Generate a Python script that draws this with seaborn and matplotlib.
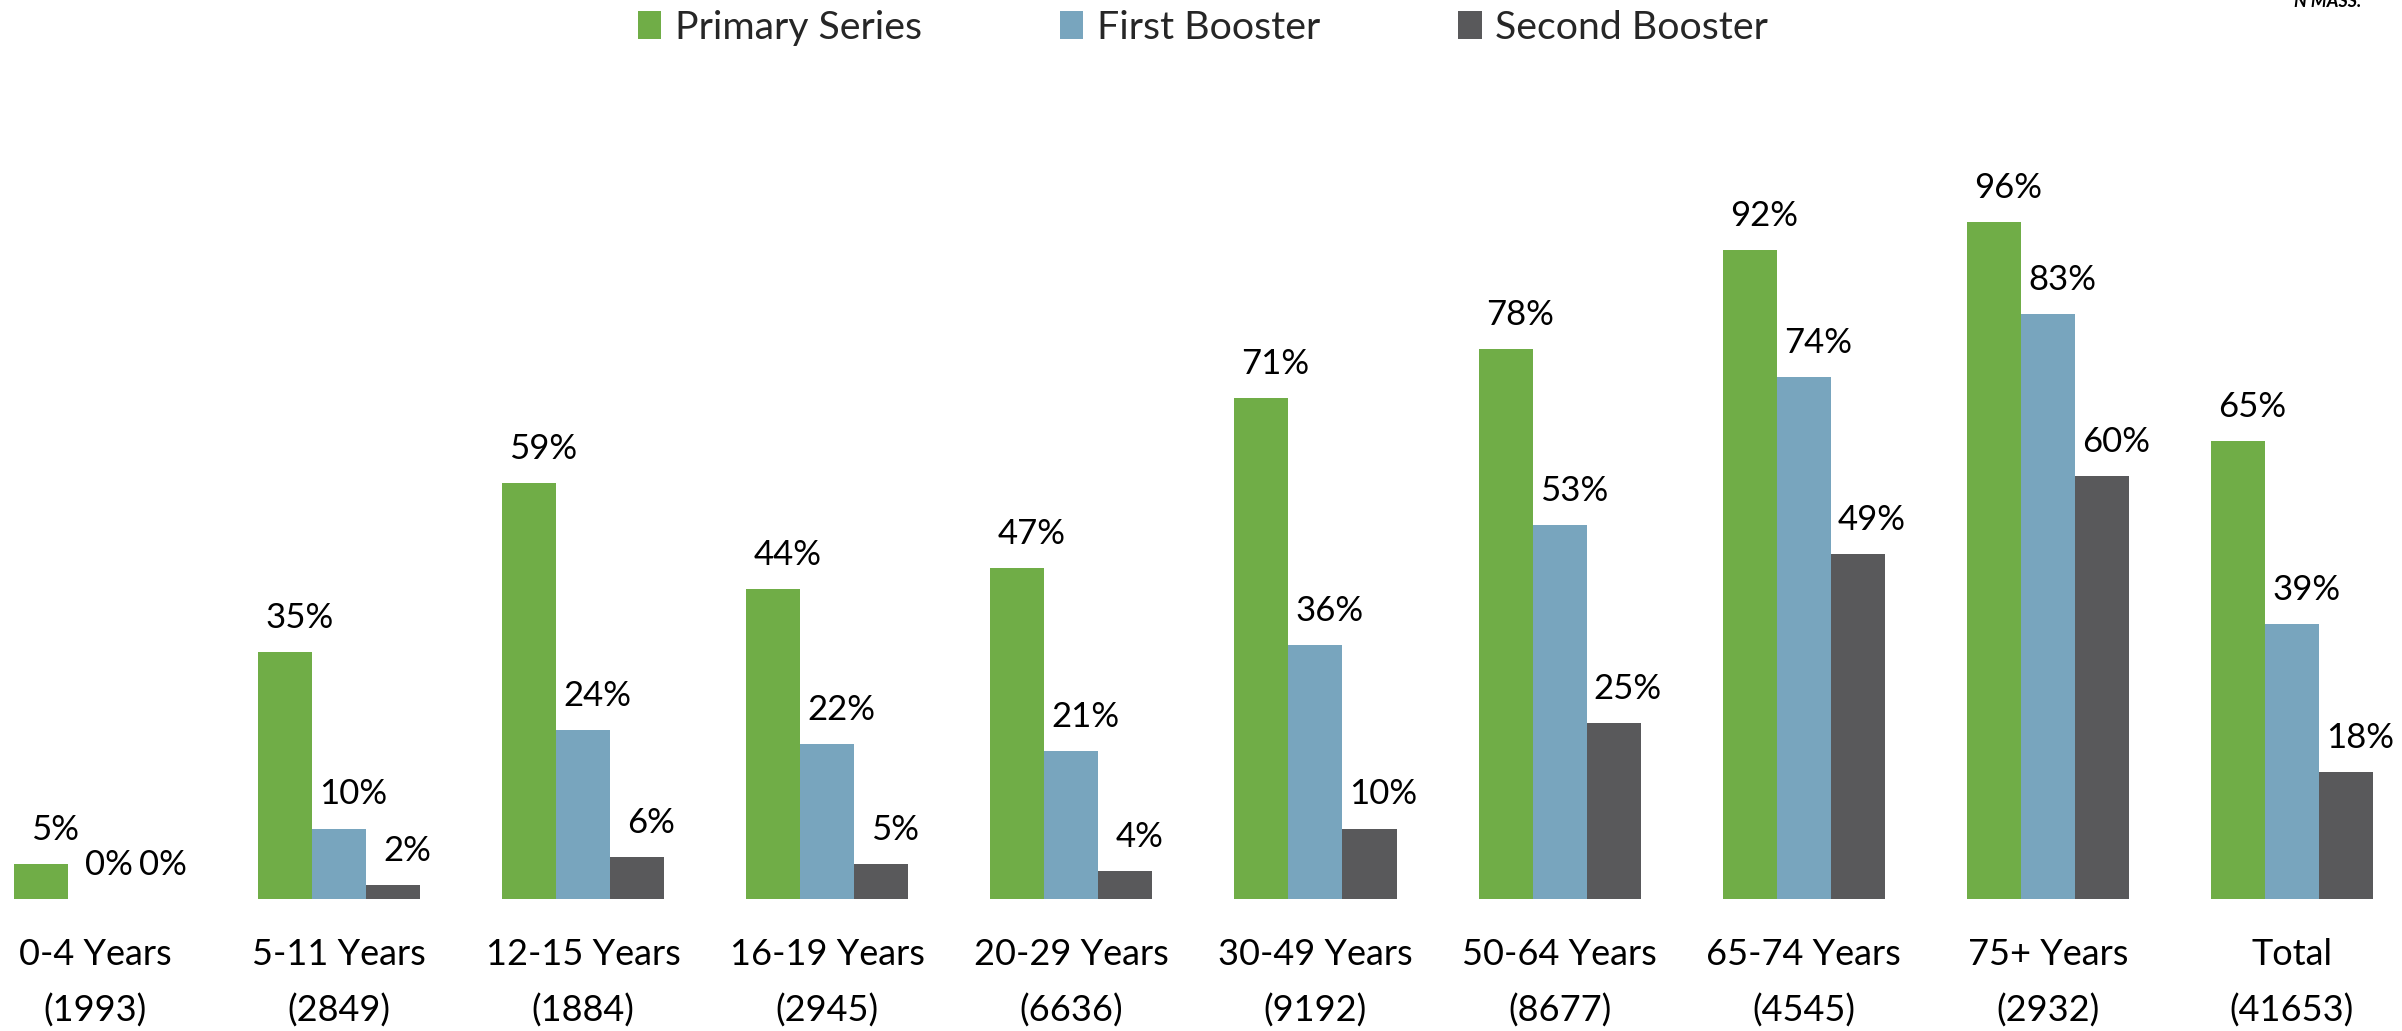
import matplotlib
matplotlib.use("Agg")
import matplotlib.pyplot as plt
import seaborn as sns
import pandas as pd
from matplotlib.patches import Patch

categories = ["0-4 Years\n(1993)", "5-11 Years\n(2849)", "12-15 Years\n(1884)",
              "16-19 Years\n(2945)", "20-29 Years\n(6636)", "30-49 Years\n(9192)",
              "50-64 Years\n(8677)", "65-74 Years\n(4545)", "75+ Years\n(2932)",
              "Total\n(41653)"]
primary_series = [5, 35, 59, 44, 47, 71, 78, 92, 96, 65]
first_booster = [0, 10, 24, 22, 21, 36, 53, 74, 83, 39]
second_booster = [0, 2, 6, 5, 4, 10, 25, 49, 60, 18]
series_names = ["Primary Series", "First Booster", "Second Booster"]
colors = ["#70AD47", "#78A5BE", "#59595B"]

rows = []
for name, vals in zip(series_names, [primary_series, first_booster, second_booster]):
    for c, v in zip(categories, vals):
        rows.append({"category": c, "series": name, "value": v})
df = pd.DataFrame(rows)

sns.set_theme(style="white")
plt.rcParams["font.family"] = ["Lato", "DejaVu Sans"]

W, H = 2402, 1031
fig = plt.figure(figsize=(W / 100, H / 100), dpi=100)
ax = fig.add_axes([0, 132 / H, 1, 705 / H])

sns.barplot(data=df, x="category", y="value", hue="series", order=categories,
            hue_order=series_names, palette=colors, width=0.664, ax=ax,
            legend=False, saturation=1, edgecolor="none", linewidth=0)

ax.set_ylim(0, 100)
ax.set_xlim(-0.389, 9.451)
ax.set_xlabel("")
ax.set_ylabel("")
ax.set_yticks([])
for s in ax.spines.values():
    s.set_visible(False)
ax.tick_params(axis="x", length=0, pad=28, labelsize=26, labelcolor="black")
for lab in ax.get_xticklabels():
    lab.set_linespacing(1.8)

for cont in ax.containers:
    for bar in cont:
        h = bar.get_height()
        ax.annotate(f"{h:.0f}%", xy=(bar.get_x() + bar.get_width() / 2, h),
                    xytext=(10.2, 17.3), textcoords="offset points",
                    ha="center", va="baseline", fontsize=25, color="black",
                    annotation_clip=False)

handles = [Patch(facecolor=c, edgecolor="none", label=n) for c, n in zip(colors, series_names)]
fig.legend(handles=handles, loc="center", bbox_to_anchor=(1203 / W, 1 - 28 / H),
           ncol=3, frameon=False, fontsize=28.3, handlelength=0.6, handleheight=0.7,
           handletextpad=0.35, columnspacing=3.5, borderaxespad=0, borderpad=0)

fig.text(2328 / W, 1 - 7 / H, "N MASS.", ha="center", va="baseline",
         fontsize=13, fontweight="bold", fontstyle="italic", color="black")

fig.savefig("out.png", dpi=100, facecolor="white")
